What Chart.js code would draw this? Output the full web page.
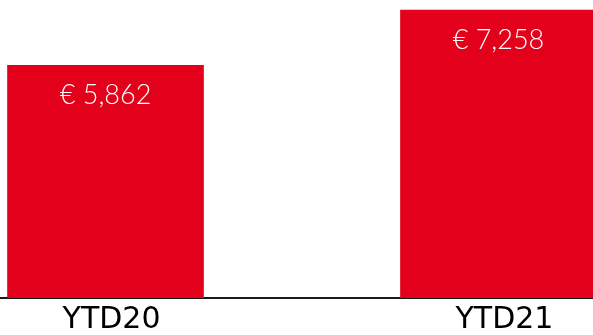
<!DOCTYPE html>
<html>
<head>
<meta charset="utf-8">
<script src="https://cdn.jsdelivr.net/npm/chart.js@4/dist/chart.umd.min.js"></script>
<style>
  html, body { margin: 0; padding: 0; background: #ffffff; }
  #wrap { width: 593px; height: 335px; position: relative; }
</style>
</head>
<body>
<div id="wrap"><canvas id="c"></canvas></div>
<script>
const categories = ['YTD20', 'YTD21'];
const values = [5862, 7258];
const valueLabels = ['€ 5,862', '€ 7,258'];

const barColor = '#E3001B';

const valueLabelPlugin = {
  id: 'valueLabels',
  afterDatasetsDraw(chart) {
    const ctx = chart.ctx;
    const meta = chart.getDatasetMeta(0);
    ctx.save();
    ctx.fillStyle = '#ffffff';
    ctx.font = '300 27px Lato, "Open Sans", sans-serif';
    ctx.textAlign = 'center';
    ctx.textBaseline = 'middle';
    meta.data.forEach((bar, i) => {
      ctx.fillText(valueLabels[i], bar.x, bar.y + 30);
    });
    ctx.restore();
  }
};

new Chart(document.getElementById('c'), {
  type: 'bar',
  data: {
    datasets: [{
      data: categories.map((c, i) => ({ x: i, y: values[i] })),
      backgroundColor: barColor,
      borderWidth: 0,
      barThickness: 196
    }]
  },
  options: {
    responsive: true,
    maintainAspectRatio: false,
    animation: false,
    layout: { padding: { left: 0, right: 0, top: 0, bottom: -8 } },
    plugins: { legend: { display: false }, tooltip: { enabled: false } },
    scales: {
      x: {
        type: 'linear',
        offset: false,
        min: -0.2685,
        max: 1.2405,
        grid: { display: false, drawTicks: false, offset: false },
        border: { display: true, color: '#1a1a1a', width: 2 },
        afterBuildTicks(scale) { scale.ticks = categories.map((c, i) => ({ value: i })); },
        ticks: {
          color: '#000000',
          font: { family: '"DejaVu Sans", sans-serif', size: 30, lineHeight: 1.1 },
          padding: 6,
          labelOffset: 6,
          maxRotation: 0,
          autoSkip: false,
          callback: (v) => categories[v] ?? ''
        }
      },
      y: {
        display: false,
        min: 0,
        max: 7510
      }
    }
  },
  plugins: [valueLabelPlugin]
});
</script>
</body>
</html>
